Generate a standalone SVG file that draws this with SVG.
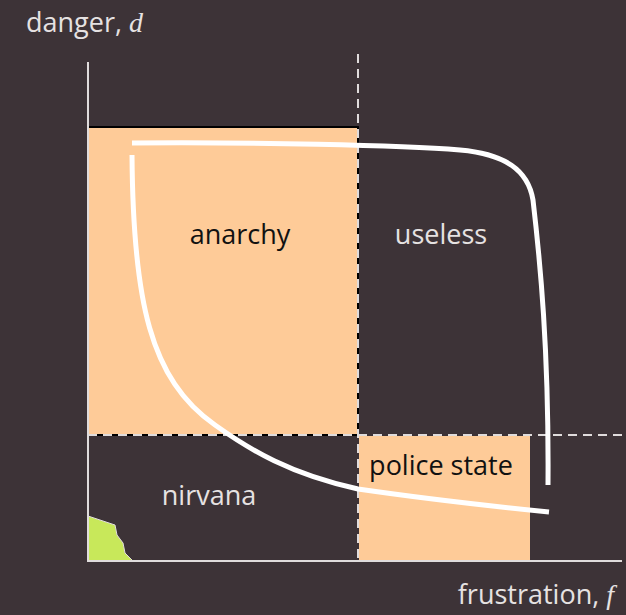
<svg xmlns="http://www.w3.org/2000/svg" width="626" height="615" viewBox="0 0 626 615">
<style>
.lbl{font-family:"Open Sans","Liberation Sans",sans-serif;font-size:27px}
.dark{fill:#111}
.light{fill:#e6e2e2}
.dash{stroke:#e0dcdc;stroke-width:2;stroke-dasharray:9 6;fill:none}
.curve{stroke:#fff;stroke-width:5;fill:none;stroke-linecap:butt}
.var{font-family:"Liberation Serif",serif;font-style:italic;font-size:28px}
</style>
<rect width="626" height="615" fill="#3d3337"/>
<g id="anarchy">
<rect x="88" y="127" width="270" height="308" fill="#fecb98" stroke="#000" stroke-width="2"/>
<text class="lbl dark" x="240" y="244" text-anchor="middle">anarchy</text>
</g>
<g id="police-state">
<rect x="359" y="436" width="171" height="125" fill="#fecb98"/>
<text class="lbl dark" x="441" y="475" text-anchor="middle">police state</text>
</g>
<g id="useless">
<text class="lbl light" x="441" y="244" text-anchor="middle">useless</text>
</g>
<g id="nirvana">
<text class="lbl light" x="209" y="505" text-anchor="middle">nirvana</text>
<polygon points="88,516 115,525 117,535 123,543 125,553 133,561 88,561" fill="#c8e85a" stroke="#e0dcdc" stroke-width="1"/>
</g>
<g id="axes">
<line x1="88" y1="62" x2="88" y2="561" stroke="#e0dcdc" stroke-width="2"/>
<line x1="87" y1="561" x2="622" y2="561" stroke="#e0dcdc" stroke-width="2"/>
<line class="dash" x1="358" y1="54" x2="358" y2="561"/>
<line class="dash" x1="88" y1="435" x2="626" y2="435"/>
<text class="lbl light" x="26" y="32">danger, <tspan class="var">d</tspan></text>
<text class="lbl light" x="614" y="604" text-anchor="end">frustration, <tspan class="var">f</tspan></text>
</g>
<g id="connectors">
<path class="curve" d="M132,155 C133,300 150,380 215,425 C250,450 290,474 358,489 C420,498 480,505 549,512"/>
<path class="curve" d="M132,143 C250,142 400,145 460,150 C505,154 528,170 533,200 C540,260 549,350 548,485"/>
</g>
</svg>
